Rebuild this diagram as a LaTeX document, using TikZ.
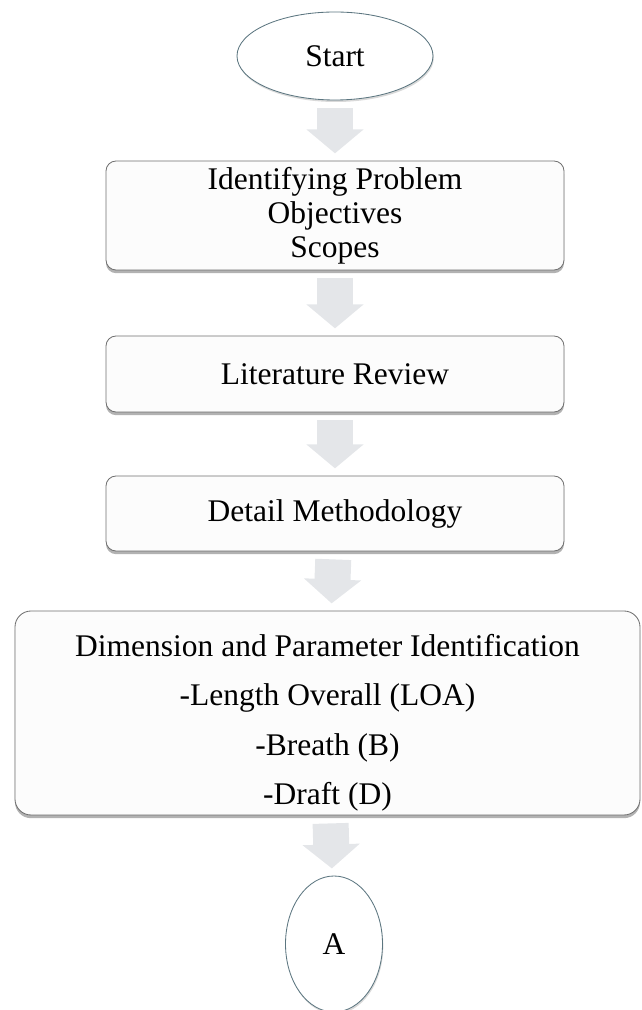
\documentclass[tikz,border=0pt]{standalone}
\usepackage{fontspec}
\setmainfont{Liberation Serif}
\usetikzlibrary{arrows.meta,shapes.geometric,shadows}
\definecolor{FlowEdge}{RGB}{112,112,112}
\definecolor{FlowFill}{RGB}{252,252,252}
\definecolor{FlowOval}{RGB}{92,118,128}
\definecolor{FlowArrow}{RGB}{228,230,233}
\tikzset{
  flow/box/.style={
    draw=FlowEdge,
    line width=0.6pt,
    rounded corners=0.25cm,
    fill=FlowFill,
    align=center,
    text=black,
    inner sep=0pt,
    drop shadow={shadow xshift=0pt,shadow yshift=-0.08cm,fill=black,opacity=0.3},
    font=\fontsize{22.4}{24.2}\selectfont
  },
  flow/bigbox/.style={
    flow/box,
    rounded corners=0.4cm,
    text depth=0pt,
    text height=130pt,
    font=\fontsize{22.4}{35}\selectfont
  },
  flow/oval/.style={
    ellipse,
    draw=FlowOval,
    line width=0.6pt,
    fill=white,
    inner sep=0pt,
    drop shadow={shadow xshift=0.02cm,shadow yshift=-0.05cm,fill=black,opacity=0.15},
    font=\fontsize{22.4}{24.2}\selectfont
  },
  flow/arrow/.style={
    -{Triangle[width=1.4cm,length=0.6cm]},
    line width=0.9cm,
    draw=FlowArrow,
    shorten <=0.2cm,
    shorten >=0.18cm
  }
}

\begin{document}
\begin{tikzpicture}[x=1cm,y=1cm]
  \clip (0,0) rectangle (16.05,25.25);
  \node[flow/oval,minimum width=4.9cm,minimum height=2.2cm] (start) at (8.375,23.85) {Start};
  \node[flow/box,minimum width=11.45cm,minimum height=2.725cm] (ident) at (8.375,19.8625) {Identifying Problem\\Objectives\\Scopes};
  \node[flow/box,minimum width=11.45cm,minimum height=1.9cm] (lit) at (8.375,15.9) {Literature Review};
  \node[flow/box,minimum width=11.45cm,minimum height=1.875cm] (detail) at (8.375,12.4125) {Detail Methodology};
  \node[flow/bigbox,minimum width=15.625cm,minimum height=5.1cm] (dim) at (8.1875,7.425) {Dimension and Parameter Identification\\-Length Overall (LOA)\\-Breath (B)\\-Draft (D)};
  \node[flow/oval,minimum width=2.425cm,minimum height=3.4cm] (cont) at (8.35,1.65) {A};
  \foreach \a/\b in {start/ident,ident/lit,lit/detail,detail/dim,dim/cont}{\draw[flow/arrow] (\a) -- (\b);}
\end{tikzpicture}
\end{document}
